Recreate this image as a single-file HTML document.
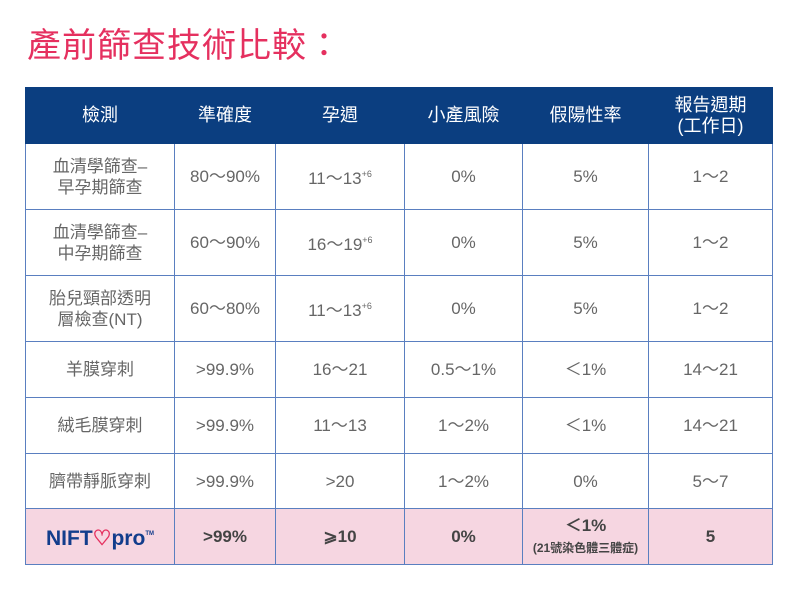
<!DOCTYPE html>
<html><head><meta charset="utf-8"><style>
body{margin:0;width:800px;height:594px;background:#fff;font-family:"Liberation Sans","Noto Sans CJK TC",sans-serif;position:relative;overflow:hidden}
.t{position:absolute;left:27px;top:18px;font-size:34px;color:#e5305f;letter-spacing:1px}
table{position:absolute;left:25px;top:87px;border-collapse:collapse;table-layout:fixed}
td,th{border:1.5px solid #5a7fc0;text-align:center;color:#666;font-size:17px;font-weight:normal;padding:0;line-height:21px}
th{background:#0b3e80;color:#fff;border-color:#0b3e80;border-left:1px solid #3d62a0;font-size:18px}
th:first-child{border-left:1.5px solid #0b3e80}
sup{font-size:9px;vertical-align:7px}
.p td{background:#f6d6e1;font-weight:bold;color:#444}
.s{font-size:12px}
</style></head><body>
<div class="t">產前篩查技術比較：</div>
<table>
<colgroup><col style="width:149px"><col style="width:101px"><col style="width:129px"><col style="width:118px"><col style="width:126px"><col style="width:124px"></colgroup>
<tr style="height:56px"><th>檢測</th><th>準確度</th><th>孕週</th><th>小產風險</th><th>假陽性率</th><th>報告週期<br>(工作日)</th></tr>
<tr style="height:66px"><td>血清學篩查–<br>早孕期篩查</td><td>80～90%</td><td>11～13<sup>+6</sup></td><td>0%</td><td>5%</td><td>1～2</td></tr>
<tr style="height:66px"><td>血清學篩查–<br>中孕期篩查</td><td>60～90%</td><td>16～19<sup>+6</sup></td><td>0%</td><td>5%</td><td>1～2</td></tr>
<tr style="height:66px"><td>胎兒頸部透明<br>層檢查(NT)</td><td>60～80%</td><td>11～13<sup>+6</sup></td><td>0%</td><td>5%</td><td>1～2</td></tr>
<tr style="height:56px"><td>羊膜穿刺</td><td>&gt;99.9%</td><td>16～21</td><td>0.5～1%</td><td>＜1%</td><td>14～21</td></tr>
<tr style="height:56px"><td>絨毛膜穿刺</td><td>&gt;99.9%</td><td>11～13</td><td>1～2%</td><td>＜1%</td><td>14～21</td></tr>
<tr style="height:55px"><td>臍帶靜脈穿刺</td><td>&gt;99.9%</td><td>&gt;20</td><td>1～2%</td><td>0%</td><td>5～7</td></tr>
<tr class="p" style="height:56px"><td><span style="color:#123d8c;font-size:21px;font-weight:900;font-family:'Liberation Sans',sans-serif">NIFT<span style="color:#e5305f">♡</span>pro</span><span style="font-size:6px;vertical-align:10px;color:#123d8c">TM</span></td><td>&gt;99%</td><td>⩾10</td><td>0%</td><td>＜1%<br><span class="s">(21號染色體三體症)</span></td><td>5</td></tr>
</table>
</body></html>
